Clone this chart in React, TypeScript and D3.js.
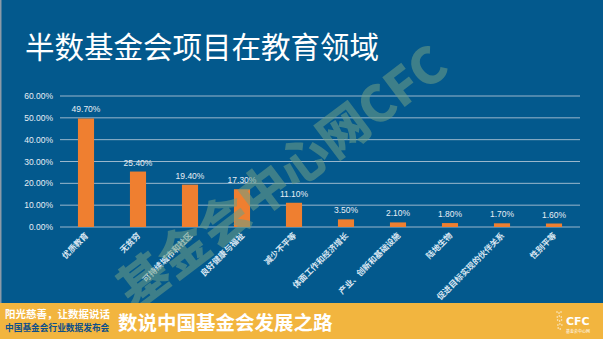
import React from "react";
import * as d3 from "d3";

const categories = ["优质教育", "无贫穷", "可持续城市和社区", "良好健康与福祉", "减少不平等", "体面工作和经济增长", "产业、创新和基础设施", "陆地生物", "促进目标实现的伙伴关系", "性别平等"];
const values = [49.7, 25.4, 19.4, 17.3, 11.1, 3.5, 2.1, 1.8, 1.7, 1.6];
const yTicks = [0, 10, 20, 30, 40, 50, 60];
const title = "半数基金会项目在教育领域";

export default function App() {
  const W = 603, H = 339;
  const x = d3.scaleBand<string>().domain(categories).range([60, 580]).paddingInner(0.69).paddingOuter(0.345);
  const y = d3.scaleLinear().domain([0, 60]).range([227, 96]);
  const font = "'Noto Sans CJK SC', 'Noto Sans', sans-serif";
  const num = "'Liberation Sans', Arial, sans-serif";
  return (
    <svg width={W} height={H} style={{ position: "absolute", left: 0, top: 0 }} fontFamily={font}>
      <rect x={0} y={0} width={W} height={H} fill="#03598d" />
      <rect x={0} y={0} width={1.5} height={303} fill="#8a9aa8" />
      <text x={25} y={58} fill="#ffffff" fontSize={29.5}>{title}</text>
      {yTicks.map((t) => (
        <g key={t}>
          <line x1={60} x2={580} y1={y(t)} y2={y(t)} stroke="#9ab7cc" strokeWidth={1} />
          <text x={53} y={y(t) + 3} fill="#e6eef5" fontSize={8.5} textAnchor="end" fontFamily={num}>{t.toFixed(2)}%</text>
        </g>
      ))}
      {categories.map((c, i) => {
        const bx = x(c)!;
        const bw = x.bandwidth();
        const cx = bx + bw / 2;
        return (
          <g key={c}>
            <rect x={bx} y={y(values[i])} width={bw} height={227 - y(values[i])} fill="#ef7f30" />
            <text x={cx} y={y(values[i]) - 6} fill="#e6eef5" fontSize={8.5} textAnchor="middle" fontFamily={num}>{values[i].toFixed(2)}%</text>
            <text transform={`translate(${cx + 3},${236}) rotate(-45)`} fill="#d8e6f2" fontSize={8.3} fontWeight={700} textAnchor="end">{c}</text>
          </g>
        );
      })}
      <text transform="translate(285,180) rotate(-37)" fill="#6f9e86" opacity={0.55} fontSize={50} fontWeight={900} textAnchor="middle" dominantBaseline="middle" fontFamily="'Noto Sans CJK SC', sans-serif">基金会中心网CFC</text>
      <rect x={0} y={303} width={W} height={36} fill="#f2b53f" />
      <text x={5} y={318} fill="#ffffff" fontSize={10.5} fontWeight={700}>阳光慈善，让数据说话</text>
      <text x={5} y={331} fill="#0d4f8a" fontSize={8.7} fontWeight={700}>中国基金会行业数据发布会</text>
      <text x={118} y={330} fill="#ffffff" fontSize={19.5} fontWeight={700}>数说中国基金会发展之路</text>
      <text x={566} y={325} fill="#ffffff" fontSize={11} fontWeight={700} fontFamily="'DejaVu Sans', sans-serif">CFC</text>
      <text x={566} y={333} fill="#ffffff" fontSize={4}>基金会中心网</text>
      {d3.range(14).map((k) => (
        <circle key={k} cx={557 + (k % 3) * 2 + Math.floor(k / 3) * 0.3} cy={312 + Math.floor(k / 3) * 4 + (k % 2)} r={0.8} fill="#ffffff" opacity={0.8} />
      ))}
    </svg>
  );
}
